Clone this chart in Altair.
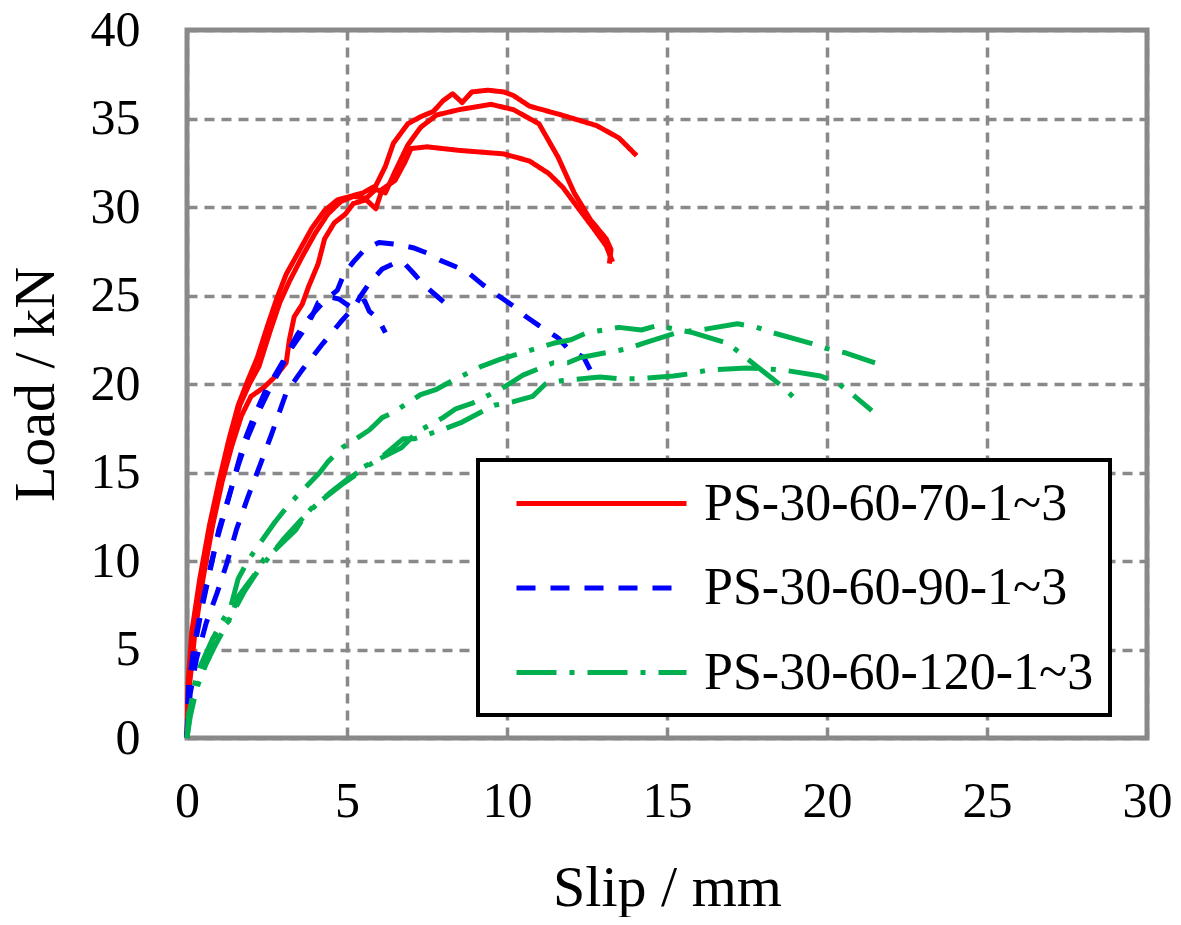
import altair as alt
import pandas as pd

# ---------------- data ----------------
series_names = ["PS-30-60-70-1~3", "PS-30-60-90-1~3", "PS-30-60-120-1~3"]
series_colors = ["#ff0000", "#0000ff", "#00b050"]
series_dashes = [[1, 0], [19, 15], [40, 13, 5, 13]]

# PS-30-60-70 specimens (red)
r1_x = [0, 0.03, 0.15, 0.4, 0.7, 1.0, 1.3, 1.6, 1.9, 2.2, 2.5, 2.8, 3.1, 3.5, 3.9, 4.3, 4.7, 5.1, 5.5, 5.9,
        6.2, 6.45, 6.9, 7.3, 7.7, 8.0, 8.3, 8.6, 8.9, 9.4, 9.9, 10.2, 10.7, 11.7, 12.8, 13.5, 14.05]
r1_y = [0, 3, 6, 9, 12, 14.5, 16.8, 18.8, 20.2, 21.5, 23.2, 24.8, 26.2, 27.5, 28.8, 29.8, 30.4, 30.6, 30.8, 31.2,
        32.3, 33.6, 34.7, 35.1, 35.4, 36.0, 36.4, 35.9, 36.5, 36.6, 36.5, 36.3, 35.7, 35.2, 34.6, 33.9, 32.9]
r2_x = [0, 0.05, 0.2, 0.45, 0.75, 1.05, 1.35, 1.65, 1.95, 2.25, 2.6, 2.9, 3.2, 3.6, 4.0, 4.4, 4.8, 5.2, 5.6, 5.9,
        6.2, 6.5, 6.9, 7.3, 7.8, 8.5, 9.5, 10.2, 11.0, 11.6, 12.1, 12.6, 13.1, 13.25, 13.2]
r2_y = [0, 3, 6, 9, 12, 14.5, 16.8, 18.8, 20, 21, 23, 24.6, 25.8, 27.2, 28.5, 29.6, 30.3, 30.6, 30.5, 31.0,
        30.8, 32.0, 33.5, 34.5, 35.2, 35.5, 35.8, 35.5, 34.7, 32.8, 30.8, 29.3, 28.2, 27.6, 26.8]
r3_x = [0, 0.08, 0.25, 0.5, 0.8, 1.1, 1.4, 1.7, 2.0, 2.4, 2.8, 3.1, 3.2, 3.35, 3.6, 3.8, 4.1, 4.3, 4.6, 4.95,
        5.2, 5.6, 5.9, 6.1, 6.5, 6.8, 7.0, 7.5, 8.5, 9.9, 10.7, 11.3, 11.75, 12.2, 12.7, 13.1, 13.3]
r3_y = [0, 3, 6, 9, 12, 14.5, 16.5, 18.2, 19.3, 19.8, 20.5, 21.2, 22.5, 23.8, 24.5, 25.5, 26.8, 28.2, 29.1, 29.6,
        30.2, 30.4, 29.9, 31.0, 31.5, 32.5, 33.3, 33.4, 33.2, 33.0, 32.6, 31.9, 31.1, 30.0, 28.8, 27.8, 26.9]

# PS-30-60-90 specimens (blue)
b1_x = [0, 0.05, 0.2, 0.45, 0.7, 0.95, 1.25, 1.55, 1.8, 2.1, 2.45, 2.75, 3.1, 3.45, 3.85, 4.3, 4.7, 4.9, 5.2, 5.55,
        6.0, 6.5, 7.06, 7.5, 7.9, 8.5, 8.85, 9.25, 9.8, 10.2, 10.6, 11.0, 11.6, 11.9, 12.4, 12.6]
b1_y = [0, 2.5, 4.8, 7.2, 9.3, 11.3, 13.2, 15.2, 16.8, 18.2, 19.6, 20.5, 21.6, 22.8, 23.8, 24.7, 25.3, 26.2, 26.9, 27.6,
        28.0, 27.9, 27.7, 27.4, 27.0, 26.55, 26.2, 25.6, 24.9, 24.4, 23.8, 23.3, 22.6, 22.0, 21.5, 20.8]
b2_x = [0, 0.1, 0.3, 0.6, 0.94, 1.25, 1.55, 1.9, 2.3, 2.65, 3.1, 3.6, 4.25, 4.8, 5.25, 5.4, 5.7, 6.1, 6.45, 6.75,
        7.06, 7.4, 7.85, 8.3]
b2_y = [0, 2.5, 4.5, 6.5, 8.2, 9.9, 11.8, 13.6, 15.5, 17.2, 19.5, 20.8, 22.3, 23.5, 24.4, 24.9, 25.7, 26.5, 26.8, 26.9,
        26.3, 25.6, 24.9, 24.2]
b3_x = [0, 0.05, 0.25, 0.5, 0.75, 1.0, 1.3, 1.6, 1.9, 2.2, 2.55, 2.9, 3.25, 3.6, 3.9, 4.1, 4.5, 4.75, 5.15, 5.55,
        5.7, 5.97, 6.2]
b3_y = [0, 3, 5.5, 7.8, 9.8, 11.8, 13.6, 15.4, 17.0, 18.3, 19.6, 20.8, 22.0, 22.9, 23.8, 24.6, 24.9, 24.8, 24.3, 24.7,
        24.1, 23.7, 22.9]

# PS-30-60-120 specimens (green)
g1_x = [0, 0.1, 0.2, 0.4, 0.8, 1.1, 1.35, 1.6, 1.9, 2.2, 2.75, 3.1, 3.4, 4.15, 4.4, 4.85, 5.7, 6.1, 6.45, 7.3,
        7.8, 8.3, 9.2, 9.8, 10.35, 11.45, 12.0, 12.5, 13.5, 14.2, 14.7, 15.8, 16.9, 17.8, 18.3, 18.7, 19.2]
g1_y = [0, 1.5, 2.8, 4.0, 5.6, 6.6, 7.3, 9.0, 10.0, 10.8, 12.2, 13.0, 13.6, 15.0, 15.6, 16.4, 17.4, 18.1, 18.4, 19.4,
        19.7, 20.2, 21.0, 21.4, 21.7, 22.3, 22.5, 22.9, 23.2, 23.05, 23.3, 22.9, 22.3, 21.0, 20.3, 19.7, 18.8]
g2_x = [0, 0.05, 0.35, 0.7, 0.8, 1.35, 1.6, 2.1, 2.4, 2.65, 3.4, 3.7, 3.9, 4.9, 5.3, 5.5, 6.7, 7.2, 8.0, 8.4,
        8.9, 9.8, 10.5, 11.45, 11.9, 12.3, 13.2, 13.8, 14.25, 15.3, 16.2, 17.2, 17.8, 18.3, 19.5, 20.0, 20.6, 21.5]
g2_y = [0, 1.4, 3.3, 4.6, 5.6, 6.7, 8.0, 9.2, 10.1, 10.45, 11.75, 12.6, 13.0, 14.4, 14.9, 15.3, 16.4, 17.3, 18.1, 18.6,
        18.9, 19.7, 20.5, 21.2, 21.2, 21.5, 21.8, 22.0, 22.3, 22.9, 23.1, 23.4, 23.2, 22.9, 22.3, 22.0, 21.75, 21.2]
g3_x = [0, 0.1, 0.3, 0.6, 0.9, 1.2, 1.5, 1.8, 2.2, 2.6, 3.0, 3.5, 4.0, 4.5, 5.0, 5.5, 6.1, 6.75, 7.1, 7.6,
        8.1, 8.6, 9.6, 10.2, 10.8, 11.2, 11.75, 12.9, 13.5, 14.1, 15.2, 15.8, 16.3, 17.5, 18.1, 18.6, 19.8, 20.3, 20.8, 21.4]
g3_y = [0, 1.2, 2.8, 4.2, 5.3, 6.3, 7.3, 8.3, 9.4, 10.3, 11.2, 12.2, 13.1, 13.9, 14.6, 15.2, 15.9, 16.9, 16.9, 17.2,
        17.5, 17.85, 18.8, 19.0, 19.3, 20.0, 20.2, 20.4, 20.3, 20.3, 20.45, 20.6, 20.8, 20.9, 20.85, 20.8, 20.45, 20.1, 19.4, 18.5]

x_ticks = [0, 5, 10, 15, 20, 25, 30]
y_ticks = [0, 5, 10, 15, 20, 25, 30, 35, 40]

curves = [
    ("R1", series_names[0], r1_x, r1_y), ("R2", series_names[0], r2_x, r2_y), ("R3", series_names[0], r3_x, r3_y),
    ("B1", series_names[1], b1_x, b1_y), ("B2", series_names[1], b2_x, b2_y), ("B3", series_names[1], b3_x, b3_y),
    ("G1", series_names[2], g1_x, g1_y), ("G2", series_names[2], g2_x, g2_y), ("G3", series_names[2], g3_x, g3_y),
]

rows = []
for cid, sname, xs, ys in curves:
    n = min(len(xs), len(ys))
    for i in range(n):
        rows.append({"curve": cid, "series": sname, "slip": xs[i], "load": ys[i], "i": i})
df = pd.DataFrame(rows)

FONT = "Liberation Serif"

legend_def = alt.Legend(
    title=None,
    orient="none",
    legendX=291,
    legendY=430,
    symbolType="M0,0H6.8",
    symbolSize=2500,
    symbolStrokeWidth=5,
    symbolOffset=-5,
    labelOffset=160,
    labelFont=FONT,
    labelFontSize=52,
    labelColor="black",
    labelLimit=1000,
    rowPadding=30.5,
    padding=16,
    fillColor="white",
    strokeColor="black",
)

chart = alt.Chart(df).mark_line(strokeWidth=5, strokeJoin="round", strokeCap="butt").encode(
    x=alt.X("slip:Q",
            scale=alt.Scale(domain=[0, 30], nice=False, zero=False),
            axis=alt.Axis(values=x_ticks, title="Slip / mm", grid=True, ticks=False, tickSize=0,
                          domain=False, labelPadding=38, labelFlush=False,
                          titleX=480, titleY=167, titleBaseline="alphabetic", titleAlign="center")),
    y=alt.Y("load:Q",
            scale=alt.Scale(domain=[0, 40], nice=False),
            axis=alt.Axis(values=y_ticks, title="Load / kN", grid=True, ticks=False, tickSize=0,
                          domain=False, labelPadding=47, labelFlush=False,
                          titleX=-134, titleY=354, titleAngle=270, titleBaseline="alphabetic",
                          titleAlign="center")),
    color=alt.Color("series:N", scale=alt.Scale(domain=series_names, range=series_colors), legend=legend_def),
    strokeDash=alt.StrokeDash("series:N", scale=alt.Scale(domain=series_names, range=series_dashes),
                              legend=legend_def),
    detail="curve:N",
    order=alt.Order("i:Q"),
).properties(
    width=960,
    height=708,
    autosize=alt.AutoSizeParams(type="none"),
    padding={"left": 179, "top": 22, "right": 26, "bottom": 179},
).configure(
    font=FONT,
).configure_view(
    stroke="#898989",
    strokeWidth=5,
).configure_axis(
    gridColor="#898989",
    gridDash=[10, 7],
    gridWidth=3.5,
    gridOpacity=1,
    labelFont=FONT,
    labelFontSize=50,
    labelColor="black",
    titleFont=FONT,
    titleFontSize=58,
    titleFontWeight="normal",
    titleColor="black",
).configure_legend(
    strokeWidth=4,
)

chart.save("out.html", embed_options={"renderer": "svg", "actions": False})
